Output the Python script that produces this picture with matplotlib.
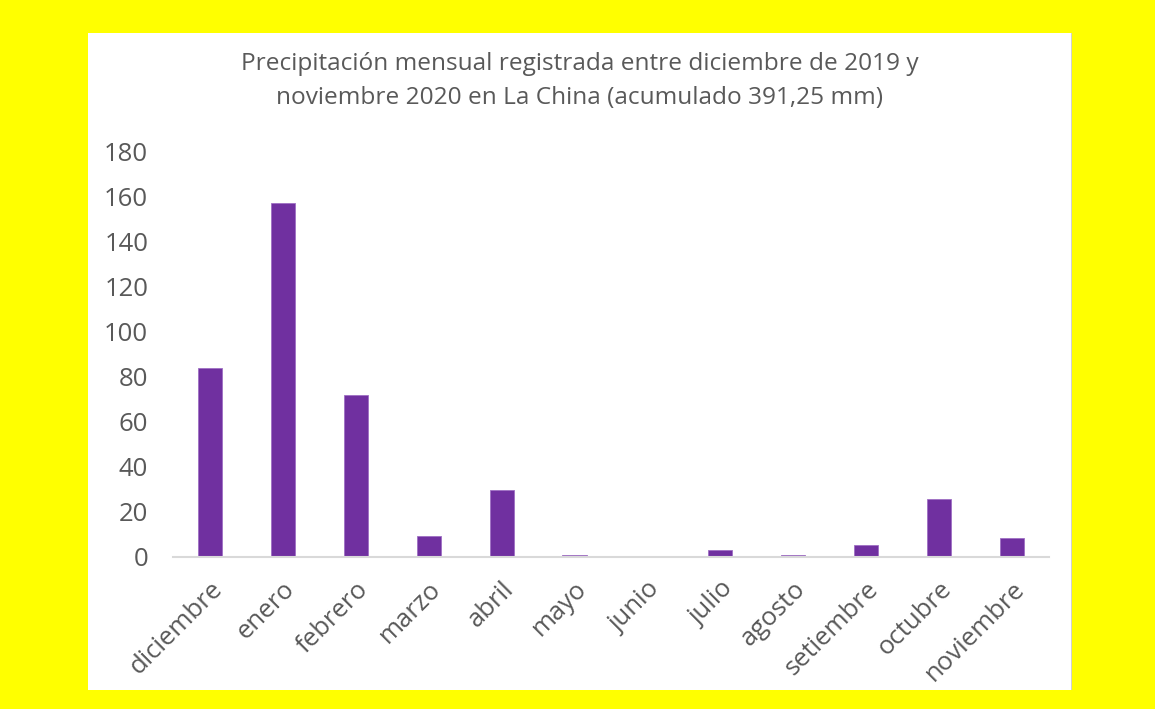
import matplotlib.pyplot as plt

meses = ['diciembre', 'enero', 'febrero', 'marzo', 'abril', 'mayo',
         'junio', 'julio', 'agosto', 'setiembre', 'octubre', 'noviembre']
lluvia_mm = [83.8, 156.8, 71.8, 9.3, 29.6, 0.8, 0.0, 3.1, 0.9, 5.2, 25.7, 8.6]
yticks = [0, 20, 40, 60, 80, 100, 120, 140, 160, 180]

titulo = ('Precipitación mensual registrada entre diciembre de 2019 y\n'
          'noviembre 2020 en La China (acumulado 391,25 mm)')

gris = '#595959'
plt.rcParams['font.family'] = ['Open Sans', 'DejaVu Sans']

fig = plt.figure(figsize=(11.55, 7.09), dpi=100)
fig.patch.set_facecolor('#FFFF00')

# white chart area, with a faint shadow on the right edge
sombra = fig.add_axes([0.0777, 0.0268, 0.8507, 0.9267])
sombra.set_xticks([])
sombra.set_yticks([])
sombra.set_facecolor('#d0d0d0')
for s in sombra.spines.values():
    s.set_visible(False)
fondo = fig.add_axes([0.0762, 0.0268, 0.8507, 0.9267])
fondo.set_facecolor('white')
fondo.set_xticks([])
fondo.set_yticks([])
for s in fondo.spines.values():
    s.set_visible(False)

ax = fig.add_axes([0.150, 0.2144, 0.758, 0.5726])
ax.set_facecolor('none')
x = range(len(meses))
ax.bar(x, lluvia_mm, width=0.33, color='#7030A0', edgecolor='#9e6fc4', linewidth=0.6)

ax.set_xlim(-0.5, len(meses) - 0.5)
ax.set_ylim(0, 180)
ax.set_yticks(yticks)
ax.set_xticks(list(x))
ax.set_xticklabels(meses, rotation=45, ha='right', rotation_mode='anchor')
ax.tick_params(axis='y', length=0, pad=18, labelsize=18.5, labelcolor=gris)
ax.tick_params(axis='x', length=0, pad=14, labelsize=18.5, labelcolor=gris)

for s in ['top', 'right', 'left']:
    ax.spines[s].set_visible(False)
ax.spines['bottom'].set_color('#d9d9d9')
ax.spines['bottom'].set_linewidth(1.5)

fig.text(0.5017, 0.886, titulo, ha='center', va='center', fontsize=17.6,
         color=gris, linespacing=1.58)

fig.savefig('out.png', dpi=100, facecolor=fig.get_facecolor())
